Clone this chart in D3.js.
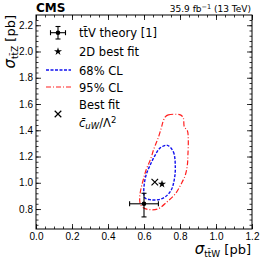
<!DOCTYPE html>
<html>
<head>
<meta charset="utf-8">
<script src="https://cdn.jsdelivr.net/npm/d3@7"></script>
<style>
  html, body { margin: 0; padding: 0; background: #fff; overflow: hidden; }
  svg { display: block; font-family: "DejaVu Sans", sans-serif; }
  .axis path.domain { stroke: #000; stroke-width: 1; }
  .axis line { stroke: #000; stroke-width: 0.8; }
  .axis text { font-size: 10px; fill: #000; }
  .leg { font-size: 11.5px; fill: #000; }
</style>
</head>
<body>
<div id="chart"></div>
<script>
// theory prediction (ttW, ttZ) with uncertainties
const theoryPoint = { x: 0.60, y: 0.84, xLo: 0.08, xHi: 0.08, yLo: 0.10, yHi: 0.08 }
const bestFit2D = { x: 0.70, y: 0.99 }
const bestFitCuW = { x: 0.66, y: 1.005 }

// 68% CL contour
const cl68 = [
  [0.73, 1.285], [0.763, 1.236], [0.774, 1.114], [0.768, 1.023], [0.752, 0.947],
  [0.719, 0.894], [0.679, 0.871], [0.635, 0.871], [0.604, 0.886], [0.599, 0.924],
  [0.601, 0.985], [0.612, 1.061], [0.635, 1.137], [0.663, 1.213], [0.69, 1.266]
]

// 95% CL contour
const cl95 = [
  [0.718, 1.502], [0.735, 1.517], [0.802, 1.517], [0.818, 1.495], [0.824, 1.426],
  [0.841, 1.396], [0.846, 1.327], [0.844, 1.213], [0.841, 1.137], [0.83, 1.061],
  [0.807, 0.992], [0.774, 0.916], [0.729, 0.856], [0.679, 0.802], [0.635, 0.795],
  [0.596, 0.81], [0.579, 0.84], [0.576, 0.886], [0.582, 0.947], [0.596, 1.023],
  [0.612, 1.099], [0.635, 1.175], [0.657, 1.266], [0.679, 1.342], [0.696, 1.418],
  [0.707, 1.471]
]

const xTicks = [0.0, 0.2, 0.4, 0.6, 0.8, 1.0, 1.2]
const yTicks = [0.8, 1.0, 1.2, 1.4, 1.6, 1.8, 2.0, 2.2]
const xMinor = d3.range(0, 1.2001, 0.05)
const yMinor = d3.range(0.68, 2.27, 0.04)

const width = 262, height = 259
const margins = { top: 15, right: 10, bottom: 30, left: 36 }
const innerWidth = 252 - margins.left
const innerHeight = 229 - margins.top

const svg = d3.select('#chart')
  .append('svg')
  .attr('width', width)
  .attr('height', height)

const g = svg.append('g')
  .attr('transform', `translate(${margins.left}, ${margins.top})`)

const xScale = d3.scaleLinear().domain([0, 1.2]).range([0, innerWidth])
const yScale = d3.scaleLinear().domain([0.648, 2.278]).range([innerHeight, 0])

// ticks without labels (minor everywhere, major on top/right), pointing inward
const bare = (sel, axis) => {
  sel.call(axis)
  sel.selectAll('text').remove()
}
bare(g.append('g').attr('class', 'axis').attr('transform', `translate(0, ${innerHeight})`),
  d3.axisBottom(xScale).tickValues(xMinor).tickSize(-2.5))
bare(g.append('g').attr('class', 'axis'),
  d3.axisTop(xScale).tickValues(xMinor).tickSize(-2.5))
bare(g.append('g').attr('class', 'axis'),
  d3.axisLeft(yScale).tickValues(yMinor).tickSize(-2.5))
bare(g.append('g').attr('class', 'axis').attr('transform', `translate(${innerWidth}, 0)`),
  d3.axisRight(yScale).tickValues(yMinor).tickSize(-2.5))
bare(g.append('g').attr('class', 'axis'),
  d3.axisTop(xScale).tickValues(xTicks).tickSize(-5))
bare(g.append('g').attr('class', 'axis').attr('transform', `translate(${innerWidth}, 0)`),
  d3.axisRight(yScale).tickValues(yTicks).tickSize(-5))

// labelled major ticks
g.append('g').attr('class', 'axis').attr('transform', `translate(0, ${innerHeight})`)
  .call(d3.axisBottom(xScale).tickValues(xTicks).tickSize(-5).tickPadding(4).tickFormat(d3.format('.1f')))
g.append('g').attr('class', 'axis')
  .call(d3.axisLeft(yScale).tickValues(yTicks).tickSize(-5).tickPadding(3).tickFormat(d3.format('.1f')))

g.selectAll('.axis .domain').remove()
g.append('rect')
  .attr('width', innerWidth).attr('height', innerHeight)
  .attr('fill', 'none').attr('stroke', '#000').attr('stroke-width', 1)

// contours
const contour = d3.line()
  .x(d => xScale(d[0]))
  .y(d => yScale(d[1]))
  .curve(d3.curveCatmullRomClosed)

g.append('path')
  .attr('d', contour(cl95))
  .attr('fill', 'none').attr('stroke', '#ff2020').attr('stroke-width', 1.2)
  .attr('stroke-dasharray', '5,2,1,2')

g.append('path')
  .attr('d', contour(cl68))
  .attr('fill', 'none').attr('stroke', '#1010ee').attr('stroke-width', 1.4)
  .attr('stroke-dasharray', '3,1.5')

// theory point with error bars
const drawErr = (sel, cx, cy, x0, x1, y0, y1) => {
  const e = sel.append('g').attr('stroke', '#000').attr('stroke-width', 1.1)
  e.append('line').attr('x1', x0).attr('x2', x1).attr('y1', cy).attr('y2', cy)
  e.append('line').attr('x1', cx).attr('x2', cx).attr('y1', y0).attr('y2', y1)
  e.append('line').attr('x1', x0).attr('x2', x0).attr('y1', cy - 2.5).attr('y2', cy + 2.5)
  e.append('line').attr('x1', x1).attr('x2', x1).attr('y1', cy - 2.5).attr('y2', cy + 2.5)
  e.append('line').attr('x1', cx - 2.5).attr('x2', cx + 2.5).attr('y1', y0).attr('y2', y0)
  e.append('line').attr('x1', cx - 2.5).attr('x2', cx + 2.5).attr('y1', y1).attr('y2', y1)
  sel.append('circle').attr('cx', cx).attr('cy', cy).attr('r', 2.3).attr('fill', '#000')
}
const tp = theoryPoint
drawErr(g, xScale(tp.x), yScale(tp.y),
  xScale(tp.x - tp.xLo), xScale(tp.x + tp.xHi),
  yScale(tp.y - tp.yLo), yScale(tp.y + tp.yHi))

const star = d3.symbol(d3.symbolStar, 20)
const cross = d3.symbol(d3.symbolTimes, 30)

g.append('path').attr('d', star())
  .attr('transform', `translate(${xScale(bestFit2D.x)}, ${yScale(bestFit2D.y)})`)
  .attr('fill', '#000')
g.append('path').attr('d', cross())
  .attr('transform', `translate(${xScale(bestFitCuW.x)}, ${yScale(bestFitCuW.y)})`)
  .attr('fill', 'none').attr('stroke', '#000').attr('stroke-width', 1.2)

// legend
const leg = svg.append('g')
const mx = 58, tx = 79
drawErr(leg, mx, 32.7, mx - 7.5, mx + 7.5, 26.5, 39)
leg.append('text').attr('class', 'leg').attr('x', tx).attr('y', 37)
  .text('tt\u0304V theory [1]')
leg.append('path').attr('d', star()).attr('transform', `translate(${mx}, 51.5)`).attr('fill', '#000')
leg.append('text').attr('class', 'leg').attr('x', tx).attr('y', 56).text('2D best fit')
leg.append('line').attr('x1', 46).attr('x2', 71).attr('y1', 70).attr('y2', 70)
  .attr('stroke', '#1010ee').attr('stroke-width', 1.4).attr('stroke-dasharray', '3,1.5')
leg.append('text').attr('class', 'leg').attr('x', tx).attr('y', 74.5).text('68% CL')
leg.append('line').attr('x1', 46).attr('x2', 71).attr('y1', 87).attr('y2', 87)
  .attr('stroke', '#ff2020').attr('stroke-width', 1.2).attr('stroke-dasharray', '5,2,1,2')
leg.append('text').attr('class', 'leg').attr('x', tx).attr('y', 91.5).text('95% CL')
leg.append('path').attr('d', cross()).attr('transform', `translate(${mx}, 114)`)
  .attr('fill', 'none').attr('stroke', '#000').attr('stroke-width', 1.2)
leg.append('text').attr('class', 'leg').attr('x', tx).attr('y', 109).text('Best fit')
const cl = leg.append('text').attr('class', 'leg').attr('x', tx).attr('y', 127)
cl.append('tspan').attr('font-style', 'italic').text('c\u0304')
cl.append('tspan').attr('font-style', 'italic').attr('font-size', '8.5px').attr('dy', 2).text('uW')
cl.append('tspan').attr('dy', -2).text('/\u039b')
cl.append('tspan').attr('font-size', '8.5px').attr('dy', -4).text('2')

// header
svg.append('text').attr('x', 36).attr('y', 12)
  .attr('font-weight', 'bold').attr('font-size', '12px').text('CMS')
const lumi = svg.append('text').attr('x', 251).attr('y', 12)
  .attr('text-anchor', 'end').attr('font-size', '9px')
lumi.append('tspan').text('35.9 fb')
lumi.append('tspan').attr('font-size', '6.5px').attr('dy', -3.5).text('\u22121')
lumi.append('tspan').attr('dy', 3.5).text(' (13 TeV)')

// axis titles
const xl = svg.append('text').attr('x', 251).attr('y', 254)
  .attr('text-anchor', 'end').attr('font-size', '13px')
xl.append('tspan').attr('font-style', 'italic').attr('font-size', '15px').text('\u03c3')
xl.append('tspan').attr('font-size', '9px').attr('dy', 3).text('tt\u0304W')
xl.append('tspan').attr('dy', -3).text(' [pb]')

const yl = svg.append('text')
  .attr('transform', 'translate(15, 15) rotate(-90)')
  .attr('text-anchor', 'end').attr('font-size', '13px')
yl.append('tspan').attr('font-style', 'italic').attr('font-size', '15px').text('\u03c3')
yl.append('tspan').attr('font-size', '9px').attr('dy', 3).text('tt\u0304Z')
yl.append('tspan').attr('dy', -3).text(' [pb]')
</script>
</body>
</html>
